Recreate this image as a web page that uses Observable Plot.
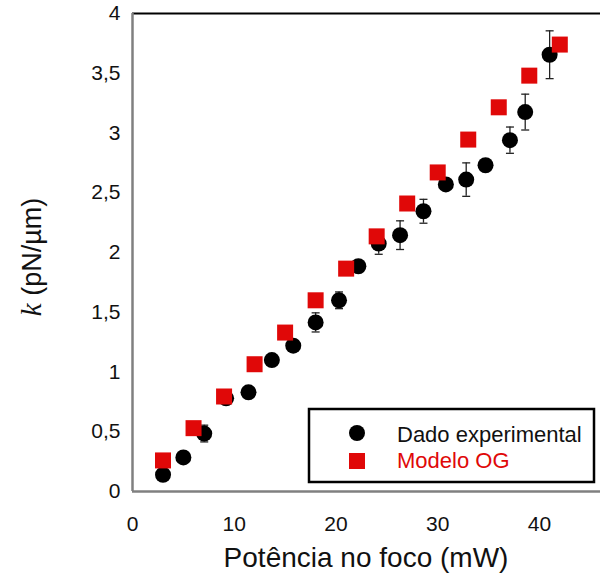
<!DOCTYPE html>
<html>
<head>
<meta charset="utf-8">
<script src="https://cdn.jsdelivr.net/npm/d3@7"></script>
<script src="https://cdn.jsdelivr.net/npm/@observablehq/plot@0.6"></script>
<style>
  html, body { margin: 0; padding: 0; background: #fff; }
  #chart svg { display: block; }
</style>
</head>
<body>
<div id="chart"></div>
<script>
// Experimental trap stiffness k vs. laser power at the focus
const power = [3, 5, 7.05, 9.2, 11.4, 13.7, 15.8, 18.0, 20.3, 22.2, 24.2, 26.3, 28.6, 30.8, 32.8, 34.7, 37.1, 38.6, 41.0];
const kExp = [0.14, 0.285, 0.485, 0.78, 0.83, 1.10, 1.22, 1.415, 1.60, 1.885, 2.075, 2.145, 2.345, 2.57, 2.61, 2.73, 2.94, 3.175, 3.655];
const kErr = [0.02, 0.02, 0.07, 0.03, 0.02, 0.02, 0.03, 0.08, 0.07, 0.03, 0.09, 0.12, 0.10, 0.03, 0.14, 0.02, 0.11, 0.15, 0.20];

// Optical-geometry (OG) model prediction
const powerModel = [3, 6, 9, 12, 15, 18, 21, 24, 27, 30, 33, 36, 39, 42];
const kModel = [0.26, 0.53, 0.795, 1.065, 1.33, 1.60, 1.865, 2.135, 2.41, 2.67, 2.945, 3.215, 3.48, 3.74];

const xTicks = [0, 10, 20, 30, 40];
const yTicks = [0, 0.5, 1, 1.5, 2, 2.5, 3, 3.5, 4];

const seriesNames = ["Dado experimental", "Modelo OG"];
const seriesColors = ["#000000", "#e00808"];

const experimental = power.map((p, i) => ({power: p, k: kExp[i], err: kErr[i]}));
const model = powerModel.map((p, i) => ({power: p, k: kModel[i]}));

// horizontal cap for the error bars
const capSymbol = {
  draw(context, size) {
    const r = Math.sqrt(size / Math.PI);
    context.moveTo(-r, 0);
    context.lineTo(r, 0);
  }
};

const commaFormat = d => String(d).replace(".", ",");

const chart = Plot.plot({
  width: 600,
  height: 579,
  marginLeft: 132,
  marginRight: 0,
  marginTop: 13,
  marginBottom: 88,
  style: {
    fontFamily: "'Liberation Sans', Arial, sans-serif",
    fontSize: "21px",
    color: "#111",
    background: "#fff",
    overflow: "visible"
  },
  x: {domain: [0, 46], ticks: xTicks, tickSize: 0, tickPadding: 25, label: null},
  y: {domain: [0, 4], ticks: yTicks, tickFormat: commaFormat, tickSize: 0, tickPadding: 12, label: null},
  marks: [
    Plot.ruleY([4], {stroke: "#000", strokeWidth: 2}),
    Plot.ruleX([0], {stroke: "#808080", strokeWidth: 2.5}),
    Plot.ruleY([0], {stroke: "#808080", strokeWidth: 2.5}),
    // error bars
    Plot.ruleX(experimental, {x: "power", y1: d => d.k - d.err, y2: d => d.k + d.err, stroke: "#222", strokeWidth: 1.3}),
    Plot.dot(experimental, {x: "power", y: d => d.k + d.err, symbol: capSymbol, r: 4, stroke: "#222", strokeWidth: 1.3, fill: "none"}),
    Plot.dot(experimental, {x: "power", y: d => d.k - d.err, symbol: capSymbol, r: 4, stroke: "#222", strokeWidth: 1.3, fill: "none"}),
    Plot.dot(experimental, {x: "power", y: "k", r: 8, fill: seriesColors[0], stroke: "none"}),
    Plot.dot(model, {x: "power", y: "k", symbol: "square", r: 9.03, fill: seriesColors[1], stroke: "none"})
  ]
});

const svg = d3.select(chart);

// axis titles
const yTitle = svg.append("text")
  .attr("transform", "translate(41,257) rotate(-90)")
  .attr("text-anchor", "middle")
  .attr("font-size", 27)
  .attr("fill", "#111");
yTitle.append("tspan")
  .attr("font-family", "'Liberation Serif', 'DejaVu Serif', serif")
  .attr("font-style", "italic")
  .attr("font-size", 29)
  .text("k");
yTitle.append("tspan")
  .attr("font-family", "'Liberation Sans', Arial, sans-serif")
  .text(" (pN/\u00b5m)");

svg.append("text")
  .attr("x", 366)
  .attr("y", 567)
  .attr("text-anchor", "middle")
  .attr("font-size", 28)
  .attr("font-family", "'Liberation Sans', Arial, sans-serif")
  .attr("fill", "#111")
  .text("Potência no foco (mW)");

// legend
const legend = svg.append("g");
legend.append("rect")
  .attr("x", 309).attr("y", 409).attr("width", 285).attr("height", 73)
  .attr("fill", "#fff").attr("stroke", "#000").attr("stroke-width", 2.5);
legend.append("circle")
  .attr("cx", 357).attr("cy", 433).attr("r", 8).attr("fill", seriesColors[0]);
legend.append("rect")
  .attr("x", 349).attr("y", 453).attr("width", 16).attr("height", 16).attr("fill", seriesColors[1]);
legend.selectAll("text.entry")
  .data(seriesNames)
  .join("text")
  .attr("class", "entry")
  .attr("x", 397)
  .attr("y", (d, i) => 442 + i * 26)
  .attr("text-anchor", "start")
  .attr("font-size", 22)
  .attr("font-family", "'Liberation Sans', Arial, sans-serif")
  .attr("fill", (d, i) => i === 0 ? "#111" : seriesColors[1])
  .text(d => d);

document.getElementById("chart").append(chart);
</script>
</body>
</html>
